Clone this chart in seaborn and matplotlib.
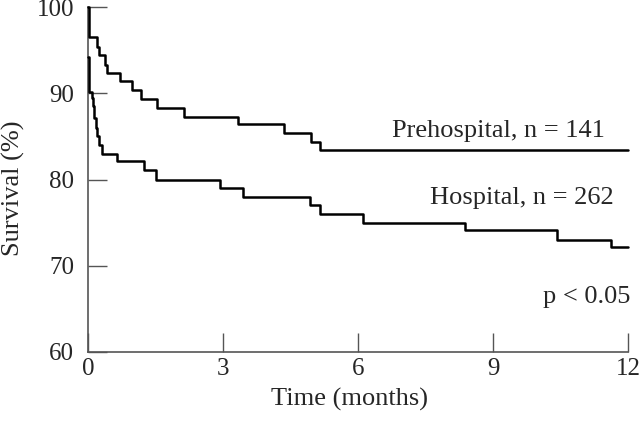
import numpy as np
import pandas as pd
import seaborn as sns
import matplotlib
matplotlib.use("Agg")
import matplotlib.pyplot as plt

# === Kaplan-Meier step values ===
pre_time = [0, 0.02, 0.20, 0.25, 0.37, 0.42, 0.72, 0.98, 1.18, 1.54, 2.14, 3.33, 4.36, 4.96, 5.16, 12]
pre_surv = [100, 96.5, 95.4, 94.4, 93.3, 92.4, 91.4, 90.4, 89.4, 88.3, 87.3, 86.4, 85.4, 84.4, 83.4, 83.4]

hosp_time = [0, 0.02, 0.08, 0.10, 0.13, 0.17, 0.21, 0.25, 0.30, 0.64, 1.25, 1.52, 2.93, 3.45,
             4.93, 5.16, 6.10, 8.38, 10.42, 11.63, 12]
hosp_surv = [94.2, 90.2, 89.5, 88.5, 87.2, 86.0, 85.0, 84.0, 83.0, 82.1, 81.1, 80.0, 79.0, 78.0,
             77.0, 76.0, 75.0, 74.1, 73.0, 72.2, 72.2]

groups = ["Prehospital, n = 141", "Hospital, n = 262"]
x_ticks = [0, 3, 6, 9, 12]
y_ticks = [60, 70, 80, 90, 100]
p_text = "p < 0.05"

df = pd.concat([
    pd.DataFrame({"time": pre_time, "survival": pre_surv, "group": groups[0]}),
    pd.DataFrame({"time": hosp_time, "survival": hosp_surv, "group": groups[1]}),
])

sns.set_style("ticks")
plt.rcParams["font.family"] = ["Liberation Serif", "DejaVu Serif"]

fig, ax = plt.subplots(figsize=(6.4, 4.23), dpi=100)
fig.subplots_adjust(left=0.1375, right=0.98125, bottom=0.168, top=0.983)

sns.lineplot(data=df, x="time", y="survival", hue="group", palette=["black", "black"],
             drawstyle="steps-post", estimator=None, legend=False, linewidth=1.8, ax=ax)
for line in ax.get_lines():
    line.set_clip_on(False)
    line.set_zorder(3)

ax.set_xlim(0, 12)
ax.set_ylim(60, 100)
ax.set_xticks(x_ticks)
ax.set_yticks(y_ticks)
sns.despine(ax=ax)
for side in ["left", "bottom"]:
    ax.spines[side].set_color("#555555")
    ax.spines[side].set_linewidth(1.2)
ax.tick_params(direction="in", length=13.5, width=1, color="#555555", labelsize=18)
ax.tick_params(axis="x", pad=4.5)
ax.tick_params(axis="y", pad=10)

ax.set_xlabel("Time (months)", fontsize=19)
ax.set_ylabel("Survival (%)", fontsize=19)
ax.xaxis.set_label_coords(0.485, -0.104)
ax.yaxis.set_label_coords(-0.117, 0.475)

# curve labels and p-value
ax.text(6.75, 84.97, groups[0], fontsize=19, va="baseline", ha="left")
ax.text(7.6, 77.17, groups[1], fontsize=19, va="baseline", ha="left")
ax.text(10.11, 65.7, p_text, fontsize=19, va="baseline", ha="left")

plt.savefig("out.png", dpi=100)
